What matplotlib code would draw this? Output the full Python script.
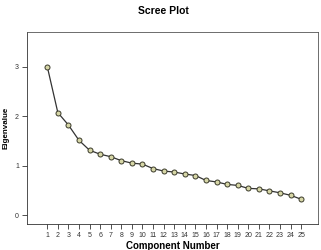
import matplotlib
matplotlib.use("Agg")
import matplotlib.pyplot as plt

plt.rcParams["font.family"] = ["Liberation Sans", "DejaVu Sans"]

components = list(range(1, 26))
eigenvalues = [3.00, 2.07, 1.82, 1.51, 1.31, 1.23, 1.18, 1.10, 1.05, 1.03,
               0.94, 0.89, 0.87, 0.83, 0.80, 0.70, 0.67, 0.62, 0.60, 0.54,
               0.53, 0.49, 0.45, 0.40, 0.32]
y_ticks = [0, 1, 2, 3]

fig = plt.figure(figsize=(3.21, 2.50), dpi=100)
ax = fig.add_axes([0.083, 0.104, 0.908, 0.768])

ax.plot(components, eigenvalues, color="#333333", linewidth=0.9,
        marker="o", markersize=3.6, markerfacecolor="#d6d6a6",
        markeredgecolor="#3a3a2a", markeredgewidth=0.7)

ax.set_xlim(-0.95, 26.6)
ax.set_ylim(-0.18, 3.70)
ax.set_xticks(components)
ax.set_xticklabels([str(c) for c in components], fontsize=5, color="#444444")
ax.set_yticks(y_ticks)
ax.set_yticklabels([str(t) for t in y_ticks], fontsize=5, color="#444444")
ax.tick_params(direction="out", length=3.5, width=0.6, pad=2, colors="#333333")

for s in ax.spines.values():
    s.set_linewidth(0.6)
    s.set_color("#555555")
ax.spines["left"].set_color("#333333")
ax.spines["bottom"].set_color("#333333")

ax.set_xlabel("Component Number", fontsize=7, fontweight="bold", labelpad=2)
ax.set_ylabel("Eigenvalue", fontsize=5.8, fontweight="bold", labelpad=4)
fig.text(0.508, 0.958, "Scree Plot", ha="center", va="center",
         fontsize=7.5, fontweight="bold")

fig.savefig("out.png", dpi=100)
